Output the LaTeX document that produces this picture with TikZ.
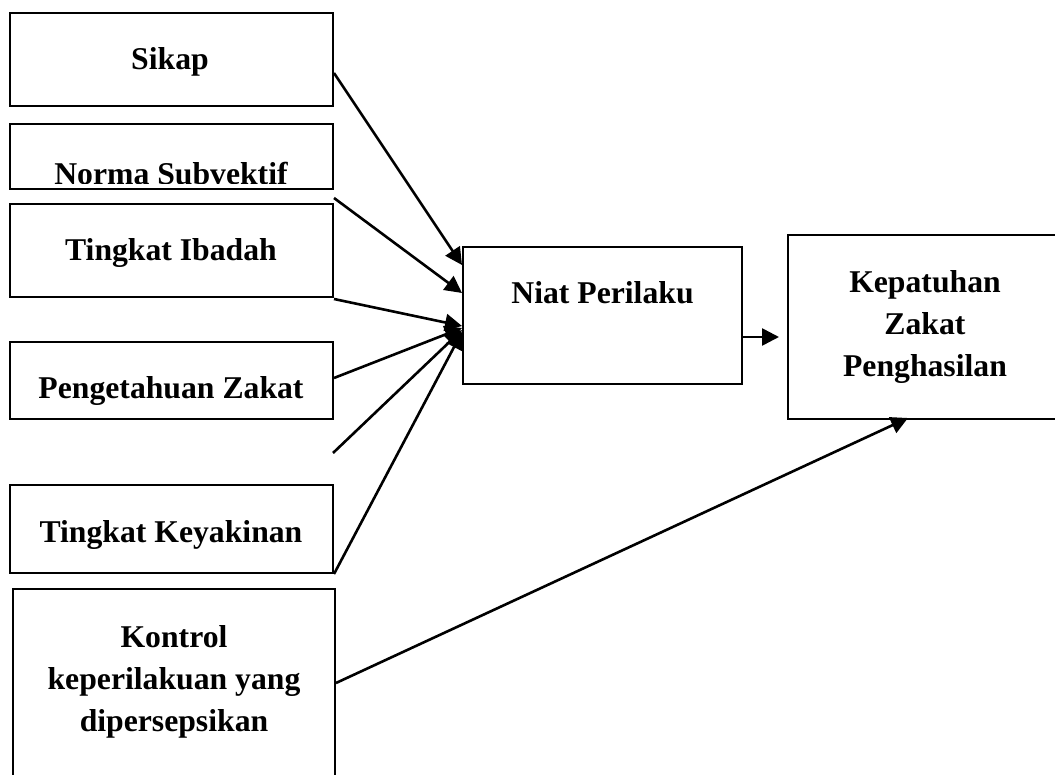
\documentclass[tikz,border=0pt]{standalone}
\usepackage{fontspec}
\setmainfont{Liberation Serif}
\usetikzlibrary{arrows.meta,calc}
\tikzset{
  box/.style={draw=black, line width=2pt, rectangle, inner sep=0pt},
  lbl/.style={font=\fontsize{31.7}{42}\selectfont\bfseries, inner sep=0pt, align=center},
  arr/.style={line width=2.6pt, -{Triangle[length=17pt,width=17pt]}},
}
\begin{document}
\begin{tikzpicture}[x=1pt,y=-1pt]
\useasboundingbox (0,0) rectangle (1055,775);
\clip (0,0) rectangle (1055,775);
\fill[white] (0,0) rectangle (1055,775);
% boxes
\node[box, minimum width=323pt, minimum height=93pt] (sikap) at (171.5,59.5) {};
\node[box, minimum width=323pt, minimum height=65pt] (norma) at (171.5,156.5) {};
\node[box, minimum width=323pt, minimum height=93pt] (ibadah) at (171.5,250.5) {};
\node[box, minimum width=323pt, minimum height=77pt] (pz) at (171.5,380.5) {};
\node[box, minimum width=323pt, minimum height=88pt] (ky) at (171.5,529) {};
\node[box, minimum width=322pt, minimum height=188pt] (kontrol) at (174,683) {};
\node[box, minimum width=279pt, minimum height=137pt] (niat) at (602.5,315.5) {};
\node[box, minimum width=274pt, minimum height=184pt] (kep) at (925,327) {};
% labels
\node[lbl, anchor=base] (sikapt) at (170,70) {Sikap};
\begin{scope}
\clip (norma.north west) rectangle ([yshift=6pt]norma.south east);
\node[lbl, anchor=base] (normat) at (171,185) {Norma Subvektif};
\end{scope}
\node[lbl, anchor=base] (ibadaht) at (171,261) {Tingkat Ibadah};
\node[lbl, anchor=base] (pzt) at (171,399) {Pengetahuan Zakat};
\node[lbl, anchor=base] (kyt) at (171,542) {Tingkat Keyakinan};
\node[lbl, anchor=base] (kontrolt) at (174,731) {Kontrol\\keperilakuan yang\\dipersepsikan};
\node[lbl, anchor=base] (niatt) at (602.5,304) {Niat Perilaku};
\node[lbl, anchor=base] (kept) at (925,377) {Kepatuhan\\Zakat\\Penghasilan};
% connectors
\coordinate (free) at (333,453);
\draw[arr] ([yshift=-13.5pt]sikap.east) -- ([yshift=50.5pt]niat.west);
\draw[arr] ([yshift=-8pt]norma.south east) -- ([yshift=22.5pt]niat.west);
\draw[arr] ([yshift=-1pt]ibadah.south east) -- ([yshift=-10.5pt]niat.west);
\draw[arr] ([yshift=2.5pt]pz.east) -- ([yshift=-12.5pt]niat.west);
\draw[arr] (free) -- ([yshift=-14.5pt]niat.west);
\draw[arr] (ky.south east) -- ([yshift=-16.5pt]niat.west);
\coordinate (k1) at ([yshift=-21.5pt]niat.east);
\draw[arr] (k1) -- ($(k1 -| kep.west)+(-8,0)$);
\draw[arr] (kontrol.east) -- ([xshift=-17pt,yshift=2pt]kep.south);
\end{tikzpicture}
\end{document}
